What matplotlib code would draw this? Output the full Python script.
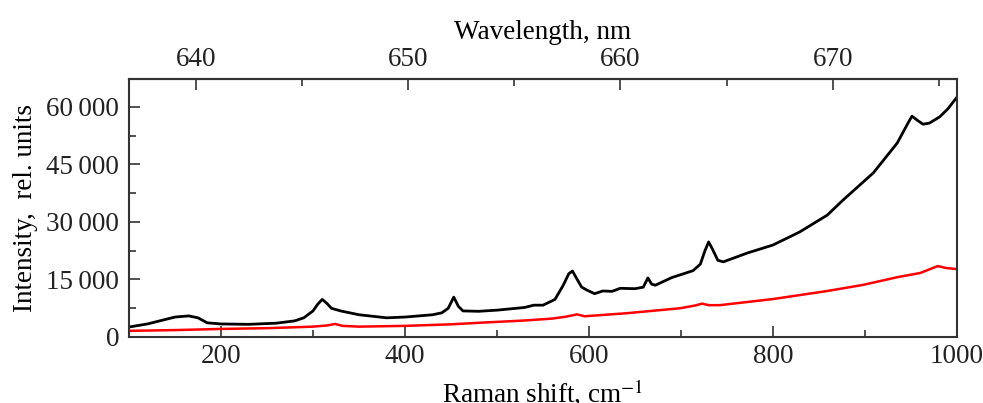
import matplotlib
matplotlib.use("Agg")
import matplotlib.pyplot as plt
from matplotlib.ticker import MultipleLocator, FuncFormatter

# black spectrum (Raman shift cm^-1, intensity)
black_shift = [100, 120, 140, 150, 165, 175, 185, 200, 230, 260, 280, 290, 300, 305, 310,
               315, 320, 330, 350, 380, 400, 430, 440, 447, 453, 458, 463, 480, 500, 530,
               540, 550, 563, 572, 578, 582, 586, 592, 598, 606, 615, 625, 634, 650, 659, 664, 668,
               672, 690, 713, 721, 726, 730, 734, 740, 746, 772, 800, 829, 859, 876, 909,
               935, 946, 951, 957, 963, 970, 981, 990, 1000]
black_int = [2600, 3400, 4600, 5200, 5500, 5000, 3700, 3400, 3300, 3600, 4200, 5000, 6800, 8500, 9800,
             8800, 7500, 6800, 5800, 5000, 5200, 5800, 6300, 7500, 10400, 8000, 6800, 6700, 7000, 7700,
             8300, 8300, 9800, 13500, 16500, 17200, 15500, 13000, 12200, 11300, 12000, 11900, 12700, 12600, 13000, 15400, 13800,
             13500, 15500, 17300, 19000, 22500, 24800, 23000, 20000, 19600, 21900, 24000, 27400, 31800, 35700, 42800,
             50600, 55500, 57600, 56500, 55500, 55800, 57400, 59500, 62600]

# red spectrum
red_shift = [100, 150, 200, 250, 300, 315, 324, 332, 350, 400, 450, 480, 530, 560, 575, 587,
             595, 641, 699, 715, 723, 730, 742, 800, 859, 898, 935, 960, 979, 988, 1000]
red_int = [1600, 1800, 2100, 2300, 2700, 3000, 3400, 2900, 2700, 2900, 3300, 3700, 4300, 4800, 5300, 5900,
           5400, 6200, 7500, 8200, 8700, 8300, 8300, 9900, 12000, 13600, 15600, 16700, 18500, 18000, 17700]

plt.rcParams['font.family'] = ['Liberation Serif', 'DejaVu Serif']
plt.rcParams['mathtext.fontset'] = 'stix'
plt.rcParams['text.color'] = '#222222'
plt.rcParams['xtick.labelcolor'] = '#222222'
plt.rcParams['ytick.labelcolor'] = '#222222'
fs = 19.5

fig = plt.figure(figsize=(9.83, 4.03), dpi=100)
ax = fig.add_axes([0.1312, 0.1638, 0.8424, 0.6402])

ax.plot(black_shift, black_int, color='black', lw=2.0)
ax.plot(red_shift, red_int, color='#ff0000', lw=1.8)

ax.set_xlim(100, 1000)
ax.set_ylim(0, 67300)
ax.xaxis.set_major_locator(MultipleLocator(200))
ax.xaxis.set_minor_locator(MultipleLocator(100))
ax.yaxis.set_major_locator(MultipleLocator(15000))
ax.yaxis.set_minor_locator(MultipleLocator(7500))
ax.yaxis.set_major_formatter(FuncFormatter(
    lambda v, p: f"{int(v):,}".replace(",", "\u2009")))

ax.tick_params(which='both', direction='in', labelsize=fs, width=1.2, color='#333333')
ax.tick_params(which='major', length=8)
ax.tick_params(which='minor', length=5)
ax.tick_params(axis='x', pad=5)
ax.tick_params(axis='y', pad=7)
for s in ax.spines.values():
    s.set_linewidth(1.5)
    s.set_color('#333333')

ax.set_xlabel("Raman shift, cm$^{-1}$", fontsize=fs, labelpad=6)
ax.set_ylabel("Intensity,  rel. units", fontsize=fs, labelpad=6)


def to_wl(s):
    return 655 + (s - 518.75) / 23.08


def to_shift(w):
    return 518.75 + (w - 655) * 23.08


top = ax.secondary_xaxis('top', functions=(to_wl, to_shift))
top.xaxis.set_major_locator(MultipleLocator(10))
top.xaxis.set_minor_locator(MultipleLocator(5))
top.tick_params(which='both', direction='in', labelsize=fs, width=1.2, color='#333333', pad=5)
top.tick_params(which='major', length=8)
top.tick_params(which='minor', length=5)
top.spines['top'].set_linewidth(1.5)
top.spines['top'].set_color('#333333')
top.set_xlabel("Wavelength, nm", fontsize=fs, labelpad=6)

fig.savefig("out.png", dpi=100)
